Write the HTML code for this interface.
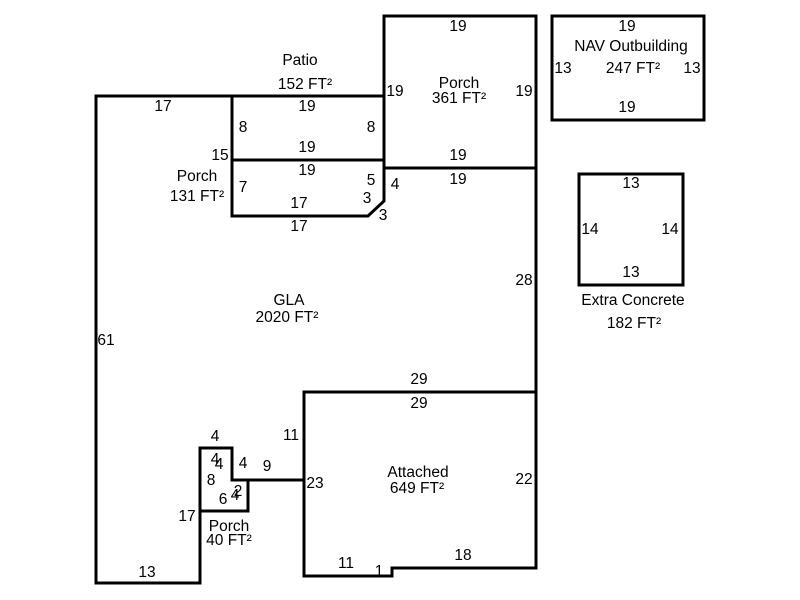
<!DOCTYPE html>
<html><head><meta charset="utf-8"><style>
html,body{margin:0;padding:0;background:#fff;width:800px;height:600px;overflow:hidden}
text{font-family:"Liberation Sans",Arial,sans-serif;font-size:15.5px;fill:#000}
</style></head><body>
<svg width="800" height="600" viewBox="0 0 800 600" xmlns="http://www.w3.org/2000/svg">
<g fill="none" stroke="#000" stroke-width="3" stroke-linejoin="miter">
<polyline points="232,96 96,96 96,583 200,583 200,511"/>
<polygon points="200,448 232,448 232,480 248,480 248,511 200,511"/>
<line x1="248" y1="480" x2="304" y2="480"/>
<polygon points="304,392 536,392 536,568 392,568 392,576 304,576"/>
<line x1="536" y1="168" x2="536" y2="392"/>
<rect x="232" y="96" width="152" height="64"/>
<polyline points="232,160 232,216 368,216 384,201 384,160"/>
<polygon points="384,16 536,16 536,168 384,168"/>
<line x1="384" y1="96" x2="384" y2="201"/>
<rect x="552" y="16" width="152" height="104"/>
<rect x="579" y="174" width="104" height="111"/>
</g>
<g text-anchor="middle">
<text x="300" y="65">Patio</text>
<text x="305" y="89">152 FT²</text>
<text x="307" y="111">19</text>
<text x="243" y="132">8</text>
<text x="371" y="132">8</text>
<text x="307" y="152">19</text>
<text x="307" y="175">19</text>
<text x="220" y="160">15</text>
<text x="197" y="181">Porch</text>
<text x="197" y="201">131 FT²</text>
<text x="243" y="192">7</text>
<text x="371" y="185">5</text>
<text x="367" y="203">3</text>
<text x="395" y="189">4</text>
<text x="383" y="220">3</text>
<text x="299" y="208">17</text>
<text x="299" y="231">17</text>
<text x="163" y="111">17</text>
<text x="458" y="31">19</text>
<text x="459" y="88">Porch</text>
<text x="459" y="103">361 FT²</text>
<text x="395" y="96">19</text>
<text x="524" y="96">19</text>
<text x="458" y="160">19</text>
<text x="458" y="184">19</text>
<text x="524" y="285">28</text>
<text x="289" y="305">GLA</text>
<text x="287" y="322">2020 FT²</text>
<text x="106" y="345">61</text>
<text x="419" y="384">29</text>
<text x="419" y="408">29</text>
<text x="291" y="440">11</text>
<text x="418" y="477">Attached</text>
<text x="417" y="493">649 FT²</text>
<text x="524" y="484">22</text>
<text x="315" y="488">23</text>
<text x="463" y="560">18</text>
<text x="346" y="568">11</text>
<text x="379" y="576">1</text>
<text x="147" y="577">13</text>
<text x="187" y="521">17</text>
<text x="215" y="441">4</text>
<text x="215" y="464">4</text>
<text x="219" y="469">4</text>
<text x="243" y="468">4</text>
<text x="267" y="471">9</text>
<text x="211" y="485">8</text>
<text x="238" y="496">2</text>
<text x="223" y="504">6</text>
<text x="235" y="500">4</text>
<text x="229" y="531">Porch</text>
<text x="229" y="545">40 FT²</text>
<text x="627" y="31">19</text>
<text x="631" y="51">NAV Outbuilding</text>
<text x="563" y="73">13</text>
<text x="633" y="73">247 FT²</text>
<text x="692" y="73">13</text>
<text x="627" y="112">19</text>
<text x="631" y="188">13</text>
<text x="590" y="234">14</text>
<text x="670" y="234">14</text>
<text x="631" y="277">13</text>
<text x="633" y="305">Extra Concrete</text>
<text x="634" y="328">182 FT²</text>
</g>
</svg>
</body></html>
